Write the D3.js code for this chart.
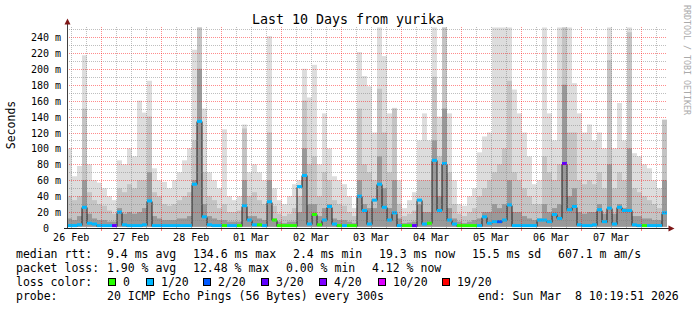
<!DOCTYPE html>
<html>
<head>
<meta charset="utf-8">
<script src="https://cdn.jsdelivr.net/npm/d3@7"></script>
<style>
body { margin: 0; background: #fff; }
text { font-family: "DejaVu Sans Mono", monospace; fill: #000; }
</style>
</head>
<body>
<svg id="chart" width="697" height="310"></svg>
<script>
// ten days of 2 hour columns, values in ms
var startTime = Date.UTC(2026, 1, 26, 10, 19, 51);
var endTime = Date.UTC(2026, 2, 8, 10, 19, 51);

var smokeMax = [
  100, 65, 78, 217, 80, 60, 57, 50, 40, 35,
  85, 80, 100, 90, 160, 145, 185, 75, 60, 58,
  50, 60, 70, 85, 100, 224, 252, 150, 70, 60,
  50, 124, 40, 35, 40, 130, 70, 80, 70, 60,
  241, 50, 35, 30, 40, 55, 60, 200, 164, 205,
  80, 144, 100, 65, 60, 55, 40, 25, 221, 191,
  178, 120, 252, 216, 144, 151, 60, 25, 35, 45,
  110, 144, 110, 252, 140, 252, 144, 60, 30, 28,
  40, 50, 95, 115, 120, 252, 252, 252, 252, 174,
  144, 120, 90, 55, 60, 252, 144, 110, 252, 252,
  252, 182, 144, 120, 130, 110, 120, 100, 252, 100,
  157, 110, 252, 94, 90, 80, 75, 60, 50, 136
];
var smokeMid = [
  40, 35, 40, 150, 45, 35, 30, 28, 22, 18,
  50, 45, 55, 50, 60, 60, 140, 45, 40, 30,
  28, 30, 35, 40, 45, 110, 252, 70, 40, 35,
  25, 30, 20, 20, 22, 125, 40, 45, 35, 30,
  120, 28, 18, 15, 18, 25, 40, 160, 80, 90,
  40, 70, 60, 35, 30, 28, 20, 15, 150, 80,
  70, 60, 175, 120, 70, 150, 30, 15, 18, 22,
  60, 60, 60, 190, 90, 252, 70, 30, 18, 15,
  20, 25, 40, 50, 60, 70, 80, 100, 185, 70,
  60, 50, 40, 30, 30, 90, 70, 60, 80, 252,
  120, 120, 60, 55, 60, 55, 70, 50, 211, 50,
  70, 60, 246, 50, 45, 40, 35, 30, 25, 136
];
var smokeDark = [
  12, 10, 15, 60, 18, 12, 10, 10, 8, 8,
  25, 18, 20, 18, 20, 25, 70, 15, 12, 10,
  10, 10, 12, 12, 15, 60, 200, 30, 15, 12,
  10, 10, 8, 8, 8, 60, 15, 15, 12, 10,
  60, 12, 8, 6, 8, 8, 20, 100, 30, 30,
  15, 25, 30, 12, 10, 10, 8, 6, 60, 30,
  25, 25, 90, 50, 25, 60, 12, 6, 7, 8,
  30, 20, 20, 110, 40, 150, 25, 12, 8, 6,
  8, 10, 12, 20, 20, 30, 25, 30, 60, 20,
  20, 15, 12, 10, 12, 30, 20, 25, 30, 180,
  40, 50, 20, 18, 20, 20, 30, 18, 80, 18,
  30, 25, 100, 15, 15, 12, 12, 10, 10, 60
];
var medianMs = [
  3, 3, 4, 26, 6, 5, 3, 3, 3, 3,
  20, 4, 3, 3, 3, 4, 34, 3, 3, 3,
  3, 3, 3, 3, 3, 55, 134, 14, 4, 3,
  3, 3, 3, 3, 3, 28, 10, 4, 4, 3,
  33, 10, 3, 3, 3, 3, 52, 66, 5, 17,
  4, 10, 27, 5, 3, 3, 3, 3, 40, 22,
  5, 35, 55, 26, 10, 19, 3, 3, 3, 3,
  35, 5, 6, 85, 22, 81, 10, 5, 3, 3,
  3, 3, 3, 14, 6, 8, 8, 10, 29, 3,
  3, 3, 3, 3, 10, 10, 8, 17, 12, 81,
  23, 27, 4, 3, 3, 4, 23, 8, 25, 5,
  26, 22, 22, 4, 3, 3, 3, 3, 3, 19
];
var lossCount = [
  1, 1, 1, 1, 1, 1, 1, 1, 1, 3,
  1, 1, 1, 1, 1, 1, 1, 1, 1, 1,
  1, 1, 1, 1, 1, 1, 1, 1, 1, 1,
  1, 0, 1, 1, 0, 1, 1, 1, 0, 1,
  1, 0, 0, 0, 0, 0, 1, 1, 1, 0,
  0, 1, 1, 1, 0, 1, 0, 0, 1, 1,
  1, 1, 1, 1, 1, 1, 1, 0, 0, 3,
  1, 1, 0, 1, 1, 1, 1, 1, 0, 0,
  0, 0, 1, 1, 1, 1, 2, 1, 1, 1,
  1, 1, 1, 1, 1, 1, 1, 1, 1, 3,
  1, 1, 1, 1, 1, 1, 1, 1, 1, 1,
  1, 1, 1, 1, 1, 0, 1, 1, 1, 1
];

var yTicks = [0, 20, 40, 60, 80, 100, 120, 140, 160, 180, 200, 220, 240];
var lossSteps = [1, 2, 3, 4, 10, 19];
var lossColors = ["#26ff00", "#00b8ff", "#0059ff", "#5e00ff", "#7e00ff", "#dd00ff", "#ff0000"];
var lossLabels = ["0", "1/20", "2/20", "3/20", "4/20", "10/20", "19/20"];

var rttText = ["median rtt:", "9.4 ms avg", "134.6 ms max", "2.4 ms min", "19.3 ms now", "15.5 ms sd", "607.1 m am/s"];
var lossText = ["packet loss:", "1.90 % avg", "12.48 % max", "0.00 % min", "4.12 % now"];
var probeText = ["probe:", "20 ICMP Echo Pings (56 Bytes) every 300s", "end: Sun Mar  8 10:19:51 2026"];

var svg = d3.select("#chart");

var x = d3.scaleUtc().domain([startTime, endTime]).range([67, 667]);
var y = d3.scaleLinear().domain([0, 240]).range([228, 37]);
var lossColor = d3.scaleThreshold().domain(lossSteps).range(lossColors);

var cols = medianMs.map(function(m, i) {
  return {
    t0: d3.utcHour.offset(new Date(startTime), 2 * i),
    t1: d3.utcHour.offset(new Date(startTime), 2 * i + 2),
    max: smokeMax[i], mid: smokeMid[i], dark: smokeDark[i],
    med: m, loss: lossCount[i]
  };
});

svg.append("defs").append("clipPath").attr("id", "plot")
  .append("rect").attr("x", 67).attr("y", 27).attr("width", 600).attr("height", 201);

var g = svg.append("g").attr("clip-path", "url(#plot)");

// smoke bands, lightest first
var bands = [["max", "#dddddd"], ["mid", "#c4c4c4"], ["dark", "#999999"]];
bands.forEach(function(b) {
  g.append("g").selectAll("rect").data(cols).enter().append("rect")
    .attr("x", function(d) { return x(d.t0); })
    .attr("width", function(d) { return x(d.t1) - x(d.t0); })
    .attr("y", function(d) { return y(d[b[0]]); })
    .attr("height", function(d) { return y(1.5) - y(d[b[0]]); })
    .attr("fill", b[1]);
});

// median line
var pts = cols.map(function(d) { return [d.t0, d.med]; });
pts.push([cols[cols.length - 1].t1, cols[cols.length - 1].med]);
g.append("path")
  .attr("d", d3.line().curve(d3.curveStepAfter)
    .x(function(p) { return x(p[0]); })
    .y(function(p) { return Math.round(y(p[1])) + 0.5; })(pts))
  .attr("fill", "none").attr("stroke", "#202020").attr("stroke-width", 1);

g.append("g").selectAll("rect").data(cols).enter().append("rect")
  .attr("x", function(d) { return x(d.t0); })
  .attr("width", function(d) { return x(d.t1) - x(d.t0); })
  .attr("y", function(d) { return Math.min(y(d.med) - 1.5, 224.5); })
  .attr("height", 3)
  .attr("fill", function(d) { return lossColor(d.loss); });

// grid
var grid = svg.append("g");
var minorY = d3.range(10, 251, 20);
grid.selectAll(".hmin").data(minorY).enter().append("line")
  .attr("x1", 67).attr("x2", 667)
  .attr("y1", function(d) { return Math.round(y(d)) + 0.5; })
  .attr("y2", function(d) { return Math.round(y(d)) + 0.5; })
  .attr("stroke", "rgba(128,128,128,0.5)").attr("stroke-dasharray", "1,1");
grid.selectAll(".hmaj").data(yTicks.slice(1)).enter().append("line")
  .attr("x1", 67).attr("x2", 667)
  .attr("y1", function(d) { return Math.round(y(d)) + 0.5; })
  .attr("y2", function(d) { return Math.round(y(d)) + 0.5; })
  .attr("stroke", "rgba(255,0,0,0.45)").attr("stroke-dasharray", "1,1");

var sixHours = d3.utcHour.every(6).range(new Date(startTime), new Date(endTime))
  .filter(function(d) { return d.getUTCHours() !== 0; });
var days = d3.utcDay.range(new Date(startTime), new Date(endTime));
grid.selectAll(".vmin").data(sixHours).enter().append("line")
  .attr("x1", function(d) { return Math.round(x(d)) + 0.5; })
  .attr("x2", function(d) { return Math.round(x(d)) + 0.5; })
  .attr("y1", 27).attr("y2", 228)
  .attr("stroke", "rgba(128,128,128,0.5)").attr("stroke-dasharray", "1,1");
grid.selectAll(".vmaj").data(days).enter().append("line")
  .attr("x1", function(d) { return Math.round(x(d)) + 0.5; })
  .attr("x2", function(d) { return Math.round(x(d)) + 0.5; })
  .attr("y1", 27).attr("y2", 228)
  .attr("stroke", "rgba(255,0,0,0.45)").attr("stroke-dasharray", "1,1");
grid.selectAll(".vtick").data(days).enter().append("line")
  .attr("x1", function(d) { return Math.round(x(d)) + 0.5; })
  .attr("x2", function(d) { return Math.round(x(d)) + 0.5; })
  .attr("y1", 228).attr("y2", 231)
  .attr("stroke", "rgba(255,0,0,0.5)");

// axes
svg.append("line").attr("x1", 67.5).attr("x2", 67.5).attr("y1", 24).attr("y2", 229)
  .attr("stroke", "#404040");
svg.append("line").attr("x1", 64).attr("x2", 669).attr("y1", 228.5).attr("y2", 228.5)
  .attr("stroke", "#202020");
svg.append("path").attr("d", "M64.5,24.5 L70.5,24.5 L67.5,18.5 Z").attr("fill", "#7f1717");
svg.append("path").attr("d", "M668.5,225.5 L668.5,231.5 L674.5,228.5 Z").attr("fill", "#7f1717");

// y labels
svg.append("g").selectAll("text").data(yTicks).enter().append("text")
  .attr("x", 61).attr("y", function(d) { return y(d) + 4; })
  .attr("text-anchor", "end").style("font-size", "10px")
  .text(function(d) { return d === 0 ? "0\u00a0\u00a0" : d + " m"; });

// x labels at noon
var noons = d3.utcDay.range(d3.utcDay.floor(new Date(startTime)), new Date(endTime))
  .map(function(d) { return d3.utcHour.offset(d, 12); })
  .filter(function(d) { return d > startTime && d < endTime; });
var fmt = d3.utcFormat("%d %b");
svg.append("g").selectAll("text").data(noons).enter().append("text")
  .attr("x", function(d) { return x(d); }).attr("y", 241)
  .attr("text-anchor", "middle").style("font-size", "10px")
  .text(function(d) { return fmt(d); });

// titles
svg.append("text").attr("x", 348).attr("y", 24).attr("text-anchor", "middle")
  .style("font-size", "13.3px").text("Last 10 Days from yurika");
svg.append("text").attr("transform", "translate(15,125) rotate(-90)")
  .attr("text-anchor", "middle").style("font-size", "11.5px").text("Seconds");
svg.append("text").attr("transform", "translate(684,5) rotate(90)")
  .style("font-size", "8.3px").style("fill", "#aaaaaa").text("RRDTOOL / TOBI OETIKER");

// legend
var legX1 = [16, 107, 193, 293, 379, 472, 558];
var legX2 = [16, 107, 193, 286, 372];
var legX4 = [16, 107, 478];
function legendLine(items, xs, yy) {
  svg.append("g").selectAll("text").data(items).enter().append("text")
    .attr("x", function(d, i) { return xs[i]; }).attr("y", yy)
    .attr("xml:space", "preserve").style("font-size", "11.5px").style("white-space", "pre")
    .text(function(d) { return d; });
}
legendLine(rttText, legX1, 258);
legendLine(lossText, legX2, 272);
legendLine(probeText, legX4, 300);
svg.append("text").attr("x", 16).attr("y", 286).style("font-size", "11.5px").text("loss color:");
var boxX = [108, 146, 203, 261, 319, 378, 442];
var sw = svg.append("g").selectAll("g").data(lossLabels).enter().append("g");
sw.append("rect")
  .attr("x", function(d, i) { return boxX[i] + 0.5; }).attr("y", 278.5)
  .attr("width", 7).attr("height", 7)
  .attr("fill", function(d, i) { return lossColors[i]; }).attr("stroke", "#000");
sw.append("text")
  .attr("x", function(d, i) { return boxX[i] + 15; }).attr("y", 286)
  .style("font-size", "11.5px").text(function(d) { return d; });
</script>
</body>
</html>
